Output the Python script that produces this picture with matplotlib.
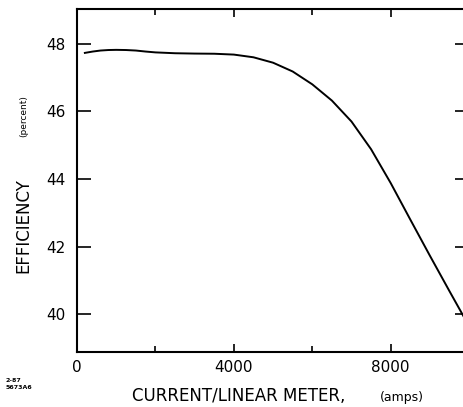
import numpy as np
import matplotlib
matplotlib.use("Agg")
import matplotlib.pyplot as plt
from matplotlib.ticker import MultipleLocator

# values
current = [200, 400, 600, 800, 1000, 1250, 1500, 1750, 2000, 2500, 3000,
           3500, 4000, 4500, 5000, 5500, 6000, 6500, 7000, 7500, 8000, 8500,
           9000, 9500, 9900]
efficiency = [47.73, 47.77, 47.80, 47.815, 47.82, 47.815, 47.80, 47.77,
              47.745, 47.72, 47.71, 47.705, 47.68, 47.60, 47.44, 47.18, 46.80,
              46.32, 45.70, 44.88, 43.88, 42.80, 41.73, 40.68, 39.85]

xticks = [0, 4000, 8000]
yticks = [40, 42, 44, 46, 48]

plt.rcParams['font.family'] = ['DejaVu Sans']

W, H = 464, 407
fig = plt.figure(figsize=(W / 100, H / 100), dpi=100)
ax = fig.add_axes([0.166, 0.135, 0.845, 0.843])

ax.plot(current, efficiency, color='black', lw=1.4)

ax.set_xlim(0, 10000)
ax.set_ylim(38.88, 49.03)
ax.set_xticks(xticks)
ax.set_xticklabels([str(t) for t in xticks])
ax.set_yticks(yticks)
ax.set_yticklabels([str(t) for t in yticks])
ax.xaxis.set_minor_locator(MultipleLocator(2000))

ax.tick_params(axis='x', which='major', direction='in', length=6, width=1.2,
               top=True, labelsize=11, pad=6)
ax.tick_params(axis='x', which='minor', direction='in', length=4, width=1.2,
               top=True)
ax.tick_params(axis='y', which='major', direction='in', length=10, width=1.2,
               right=True, labelsize=11, pad=8)

for s in ax.spines.values():
    s.set_linewidth(1.5)
ax.spines['right'].set_visible(False)

# axis titles, placed in figure pixels
def px(x, y):
    return x / W, 1 - y / H

fig.text(*px(132, 401), 'CURRENT/LINEAR METER,', fontsize=12,
         ha='left', va='baseline')
fig.text(*px(380, 401), '(amps)', fontsize=9, ha='left', va='baseline')
fig.text(*px(23, 226), 'EFFICIENCY', fontsize=12, rotation=90,
         ha='center', va='center')
fig.text(*px(24, 116), '(percent)', fontsize=6.5, rotation=90,
         ha='center', va='center')

fig.text(0.012, 0.045, '2-87\n5673A6', fontsize=4.5, fontweight='bold',
         linespacing=1.3)

fig.savefig('out.png', dpi=100)
